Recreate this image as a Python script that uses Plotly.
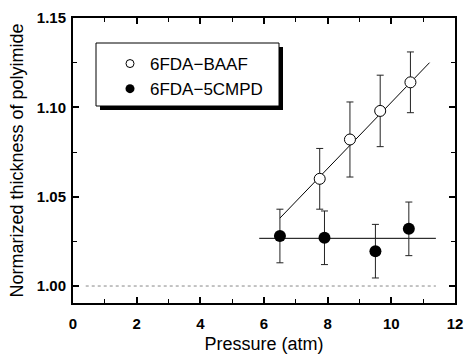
import plotly.graph_objects as go

# Data
baaf_pressure = [7.75, 8.7, 9.65, 10.6]
baaf_thickness = [1.060, 1.082, 1.098, 1.114]
baaf_error = [0.017, 0.021, 0.020, 0.017]

cmpd_pressure = [6.5, 7.9, 9.5, 10.55]
cmpd_thickness = [1.028, 1.027, 1.0195, 1.032]
cmpd_error = [0.015, 0.015, 0.015, 0.015]

baaf_fit_x = [6.5, 11.2]
baaf_fit_y = [1.038, 1.125]
cmpd_fit_x = [5.85, 11.4]
cmpd_fit_y = [1.0267, 1.0267]
baseline_x = [0.4, 11.4]
baseline_y = [1.0, 1.0]

x_ticks = [0, 2, 4, 6, 8, 10, 12]
y_ticks = [1.00, 1.05, 1.10, 1.15]
y_tick_labels = ["1.00", "1.05", "1.10", "1.15"]

FONT = "Liberation Sans, Arial, sans-serif"

fig = go.Figure()

# reference line at 1.00
fig.add_trace(go.Scatter(x=baseline_x, y=baseline_y, mode="lines",
                         line=dict(color="#888888", width=1, dash="dot"),
                         showlegend=False, hoverinfo="skip"))
# fit lines
fig.add_trace(go.Scatter(x=baaf_fit_x, y=baaf_fit_y, mode="lines",
                         line=dict(color="black", width=1),
                         showlegend=False, hoverinfo="skip"))
fig.add_trace(go.Scatter(x=cmpd_fit_x, y=cmpd_fit_y, mode="lines",
                         line=dict(color="black", width=1),
                         showlegend=False, hoverinfo="skip"))

# data with error bars
fig.add_trace(go.Scatter(
    x=baaf_pressure, y=baaf_thickness, mode="markers", name="6FDA\u2212BAAF",
    marker=dict(symbol="circle", size=11, color="white", line=dict(color="black", width=1)),
    error_y=dict(type="data", array=baaf_error, color="#222222", thickness=1, width=3.5),
    showlegend=False))
fig.add_trace(go.Scatter(
    x=cmpd_pressure, y=cmpd_thickness, mode="markers", name="6FDA\u22125CMPD",
    marker=dict(symbol="circle", size=12, color="black"),
    error_y=dict(type="data", array=cmpd_error, color="#222222", thickness=1, width=3.5),
    showlegend=False))

# legend-only entries (small symbols like the original)
fig.add_trace(go.Scatter(x=[None], y=[None], mode="markers", name="6FDA\u2212BAAF",
                         marker=dict(symbol="circle", size=8, color="white",
                                     line=dict(color="black", width=1))))
fig.add_trace(go.Scatter(x=[None], y=[None], mode="markers", name="6FDA\u22125CMPD",
                         marker=dict(symbol="circle", size=9, color="black")))

# plot pixel frame: x 73..455, y 18..303
def px_x(p):
    return (p - 73) / 382.0

def px_y(p):
    return (303 - p) / 285.0

shapes = [
    # shadow
    dict(type="rect", xref="paper", yref="paper",
         x0=px_x(100), x1=px_x(283), y0=px_y(110), y1=px_y(47),
         fillcolor="black", line=dict(width=0), layer="above"),
    # legend box
    dict(type="rect", xref="paper", yref="paper",
         x0=px_x(96), x1=px_x(279), y0=px_y(106), y1=px_y(43),
         fillcolor="white", line=dict(color="black", width=1), layer="above"),
]

fig.update_layout(
    width=464, height=355,
    margin=dict(l=73, r=9, t=18, b=52),
    paper_bgcolor="white", plot_bgcolor="white",
    font=dict(family=FONT, color="black"),
    shapes=shapes,
    showlegend=True,
    legend=dict(x=px_x(110), y=px_y(46), xanchor="left", yanchor="top",
                bgcolor="rgba(0,0,0,0)", borderwidth=0,
                font=dict(family=FONT, size=17, color="black"),
                itemclick=False, itemdoubleclick=False),
)

fig.update_xaxes(
    range=[0, 12], tickvals=x_ticks, ticktext=["<b>%d</b>" % v for v in x_ticks],
    ticks="inside", ticklen=6, tickwidth=1.5, tickcolor="black",
    minor=dict(dtick=1, ticks="inside", ticklen=4, tickwidth=1, tickcolor="black"),
    showline=True, linecolor="black", linewidth=2, mirror="ticks",
    showgrid=False, zeroline=False, ticklabelstandoff=6, automargin=False,
    tickfont=dict(family=FONT, size=15, color="black"),
    title=dict(text="Pressure (atm)", font=dict(family=FONT, size=18, color="black"), standoff=6),
)
fig.update_yaxes(
    range=[0.9905, 1.15], tickvals=y_ticks, ticktext=["<b>%s</b>" % t for t in y_tick_labels],
    ticks="inside", ticklen=6, tickwidth=1.5, tickcolor="black",
    minor=dict(dtick=0.025, tick0=1.0, ticks="inside", ticklen=4, tickwidth=1, tickcolor="black"),
    showline=True, linecolor="black", linewidth=2, mirror="ticks",
    showgrid=False, zeroline=False, ticklabelstandoff=2, automargin=False,
    tickfont=dict(family=FONT, size=15, color="black"),
    title=dict(text="Normarized thickness of polyimide", font=dict(family=FONT, size=18, color="black"), standoff=8),
)

fig.write_html("out.html")
